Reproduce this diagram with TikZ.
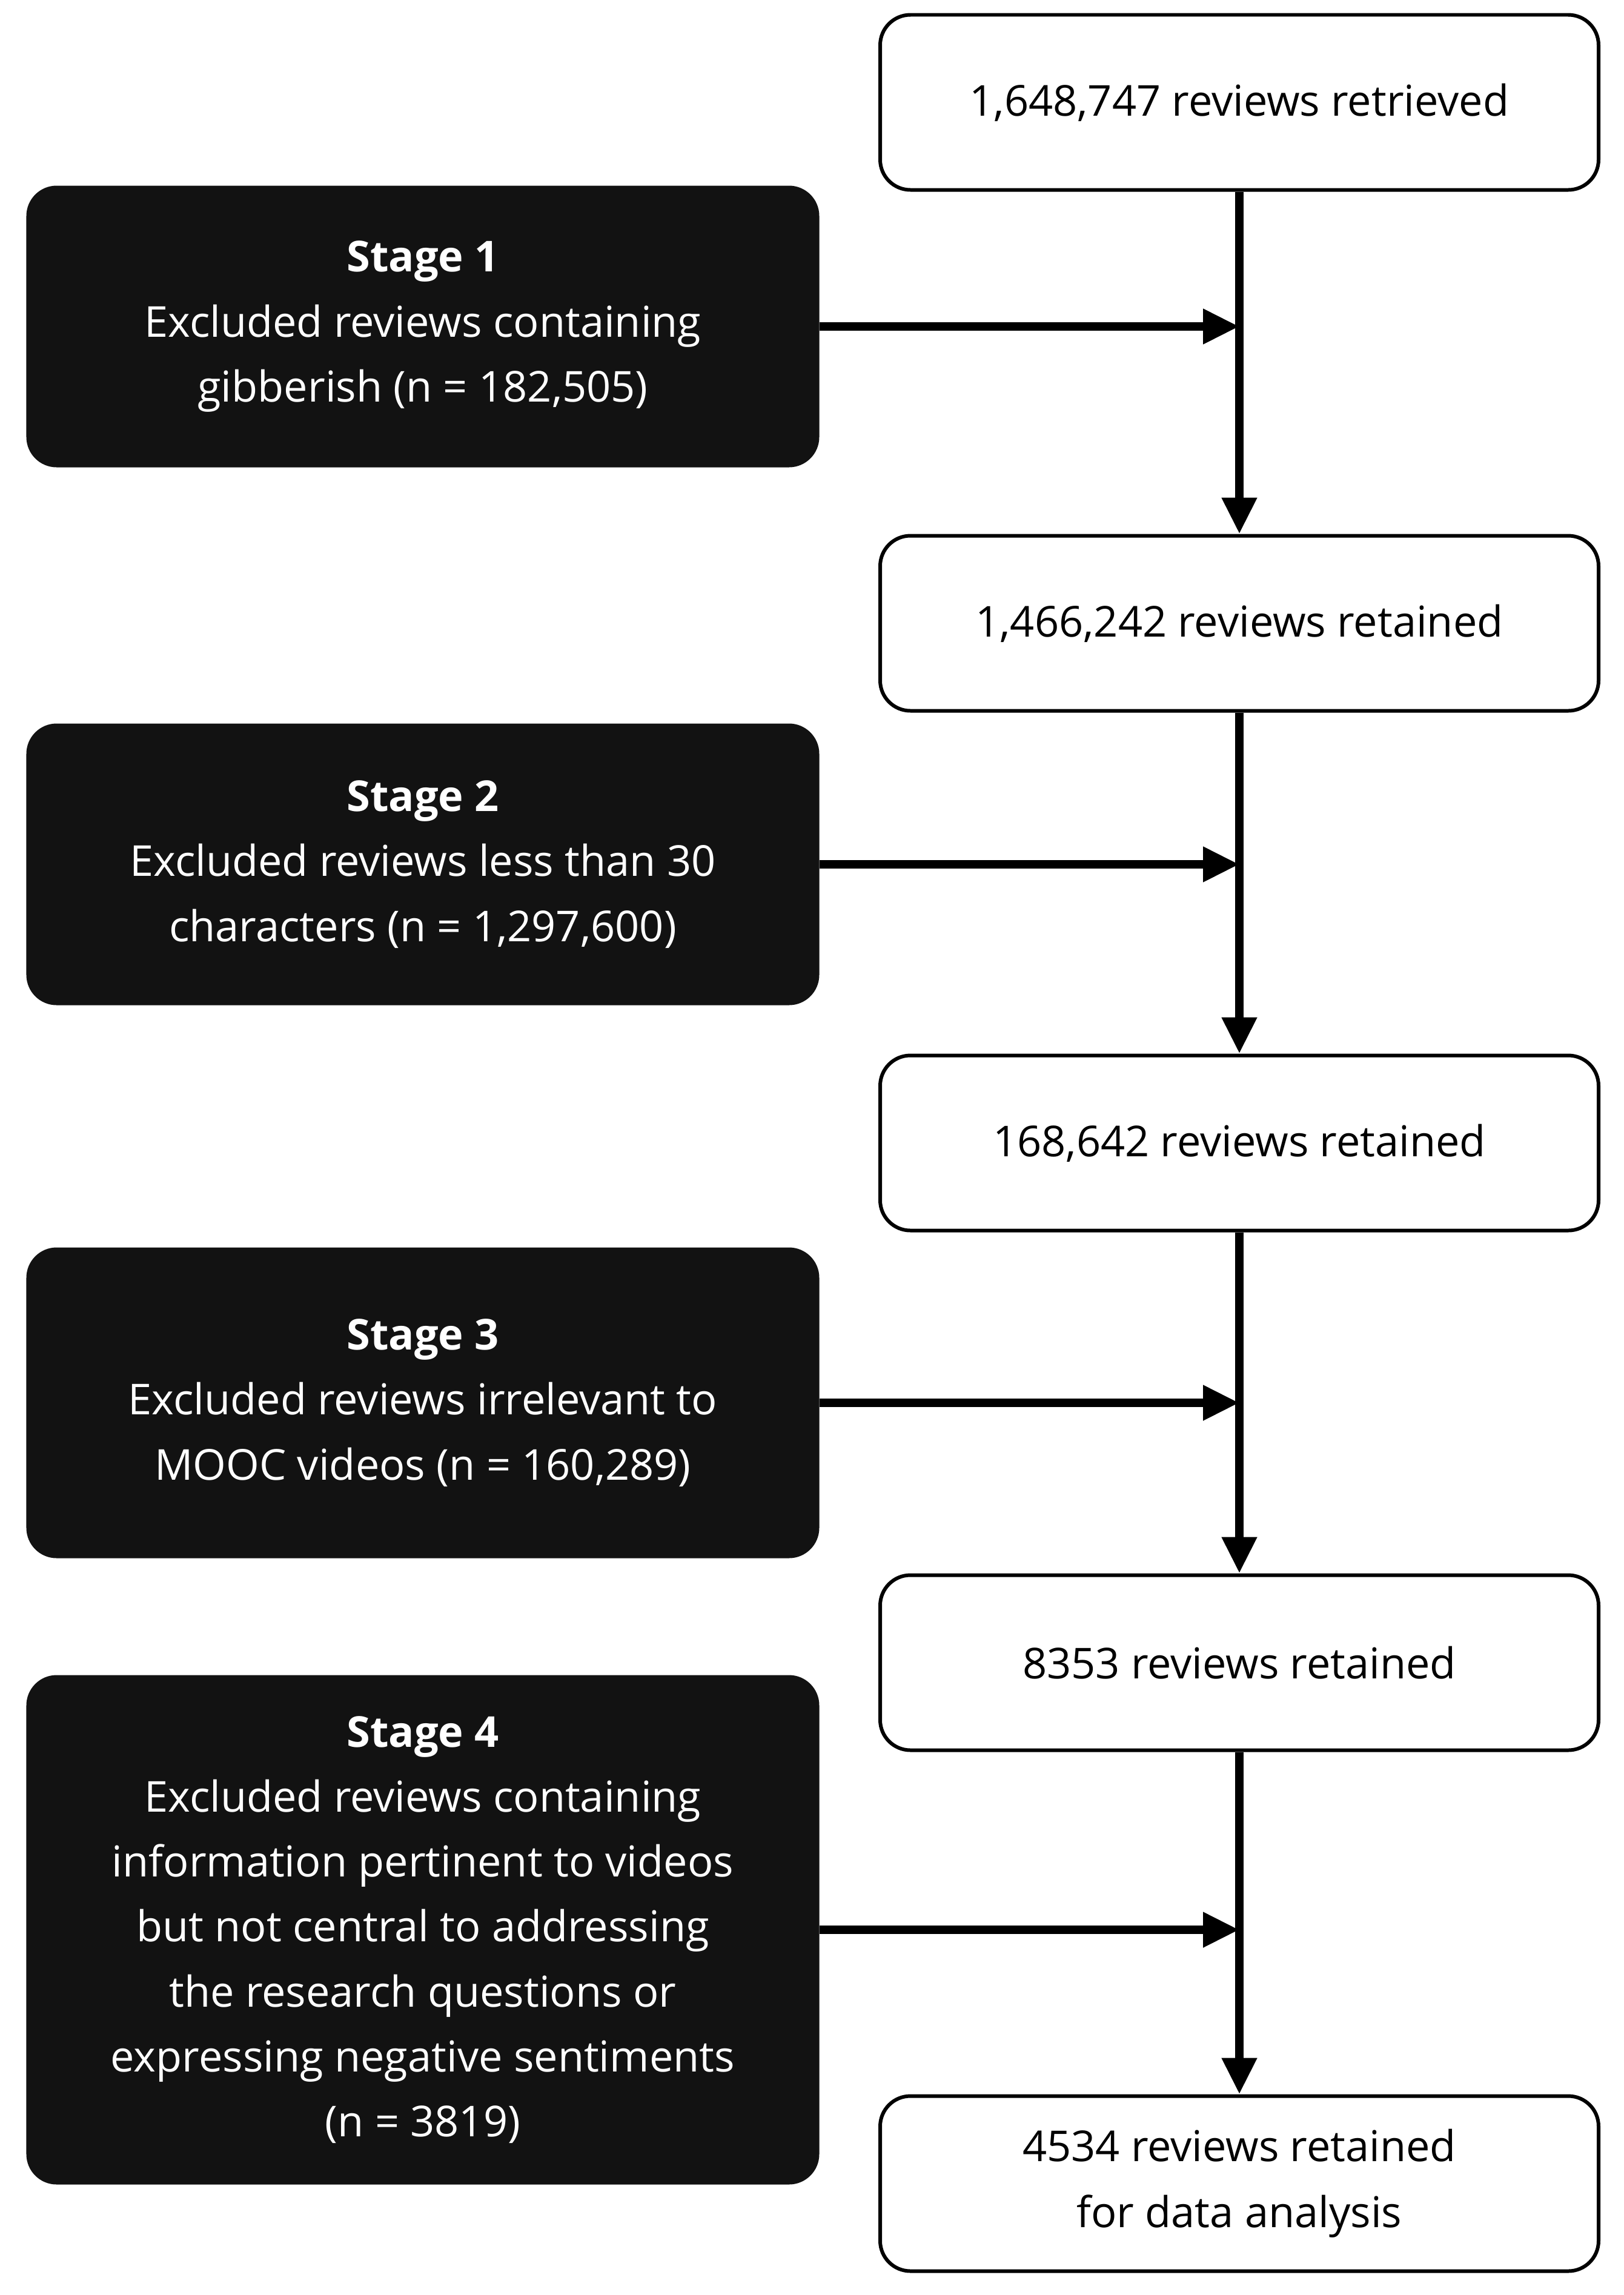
\documentclass[tikz,border=0pt]{standalone}
\usepackage{fontspec}
\setmainfont{Open Sans}
\usetikzlibrary{positioning, arrows.meta}
\tikzset{
  count/.style={draw, line width=1.7pt, rounded corners=0.5cm, minimum width=11.86cm,
    minimum height=2.89cm, align=center, font=\fontsize{20}{31}\selectfont},
  stage/.style={fill=black!93, text=white, rounded corners=0.5cm, minimum width=13.09cm,
    align=center, font=\fontsize{20}{30.5}\selectfont},
  flow/.style={line width=4pt, -{Triangle[length=0.6cm, width=0.55cm]}}
}
\begin{document}
\begin{tikzpicture}
\useasboundingbox (0,0) rectangle (26.81,-37.89);
\node[count] (r1) at (20.46,-1.69) {1,648,747 reviews retrieved};
\node[count] (r2) at (20.46,-10.29) {1,466,242 reviews retained};
\node[count] (r3) at (20.46,-18.87) {168,642 reviews retained};
\node[count] (r4) at (20.46,-27.45) {8353 reviews retained};
\node[count] (r5) at (20.46,-36.05) {4534 reviews retained\\for data analysis};
\node[stage, minimum height=4.65cm] (s1) at (6.98,-5.39)
  {\textbf{Stage 1}\\Excluded reviews containing\\gibberish (n = 182,505)};
\node[stage, minimum height=4.65cm] (s2) at (6.98,-14.27)
  {\textbf{Stage 2}\\Excluded reviews less than 30\\characters (n = 1,297,600)};
\node[stage, minimum height=5.13cm] (s3) at (6.98,-23.16)
  {\textbf{Stage 3}\\Excluded reviews irrelevant to\\MOOC videos (n = 160,289)};
\node[stage, minimum height=8.41cm] (s4) at (6.98,-31.86)
  {\textbf{Stage 4}\\Excluded reviews containing\\information pertinent to videos\\but not central to addressing\\the research questions or\\expressing negative sentiments\\(n = 3819)};
% vertical flow
\draw[flow] (r1) -- (r2);
\draw[flow] (r2) -- (r3);
\draw[flow] (r3) -- (r4);
\draw[flow] (r4) -- (r5);
% exclusions
\foreach \i in {1,...,4} {
  \coordinate (j\i) at (s\i.east -| r1.center);
  \draw[flow] (s\i) -- (j\i);
}
\end{tikzpicture}
\end{document}
